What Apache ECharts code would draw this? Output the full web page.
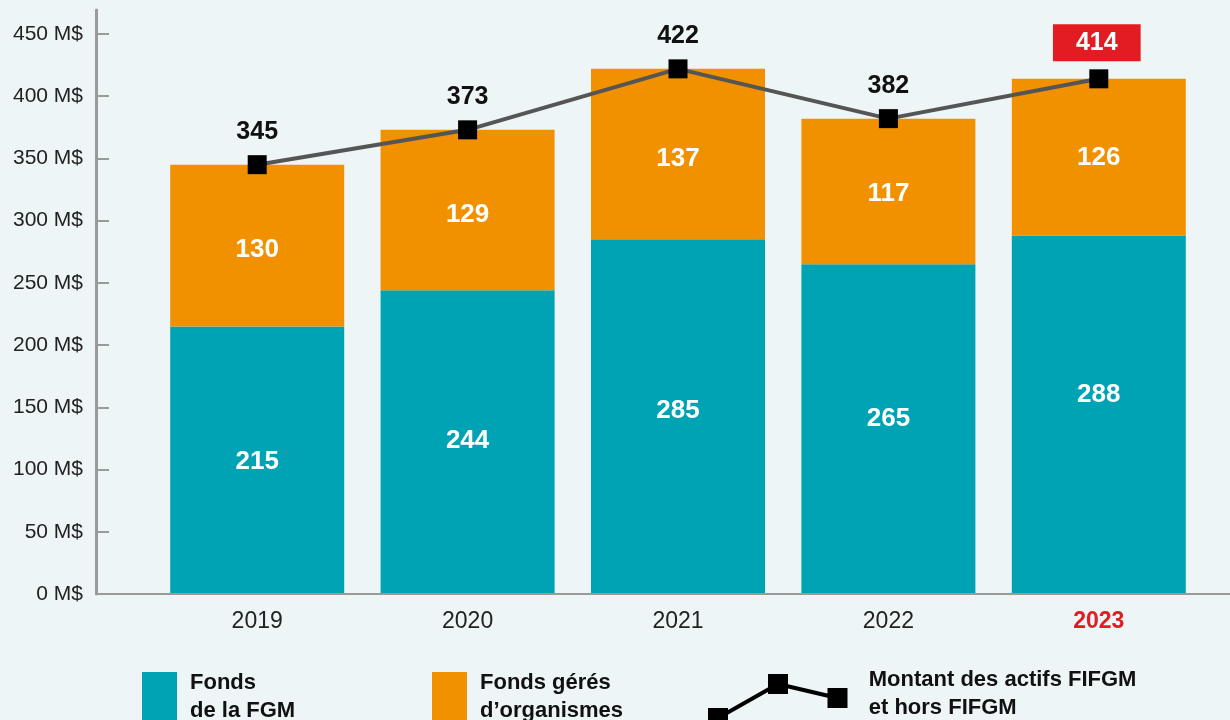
<!DOCTYPE html>
<html>
<head>
<meta charset="utf-8">
<script src="https://cdn.jsdelivr.net/npm/echarts@6/dist/echarts.min.js"></script>
<style>
html, body { margin: 0; padding: 0; background: #eef5f7; }
#chart { width: 1230px; height: 720px; }
</style>
</head>
<body>
<div id="chart"></div>
<script>
// données
const years = ["2019", "2020", "2021", "2022", "2023"];
const fondsFgm = [215, 244, 285, 265, 288];
const fondsOrganismes = [130, 129, 137, 117, 126];
const totalActifs = [345, 373, 422, 382, 414];
const yTickValues = [0, 50, 100, 150, 200, 250, 300, 350, 400, 450];

// petits décalages verticaux des étiquettes (style, pas des données)
const tealLabelShift = [2, -1, -6, -10, -20];
const orangeLabelShift = [4, 5, 5, 2, 1];

const FONT = '"Liberation Sans", Arial, Helvetica, sans-serif';
const TEAL = "#00a3b4";
const ORANGE = "#f29100";
const RED = "#e31b23";
const AXIS = "#9a9a9a";

const nameFgm = "Fonds de la FGM";
const nameOrg = "Fonds gérés d’organismes";
const nameTotal = "Montant des actifs FIFGM et hors FIFGM";
const legendText = {};
legendText[nameFgm] = "Fonds\nde la FGM";
legendText[nameOrg] = "Fonds gérés\nd’organismes";
legendText[nameTotal] = "Montant des actifs FIFGM\net hors FIFGM";

// zigzag + carrés ; le point invisible en haut décale l'icône sous le texte
const lineIcon =
  "path://M0,-14L0.01,-14 M0,34h20v20h-20z M60,0h20v20h-20z M119.5,14h20v20h-20z " +
  "M9,42.3L69,8.3L71,11.7L11,45.7z M70.5,8L130,22L129,26L69.5,12z";

const legendTextStyle = {
  fontFamily: FONT,
  fontSize: 22,
  fontWeight: "bold",
  color: "#111",
  lineHeight: 28
};

function legendBox(left, top, w, h, name, icon, pad) {
  return {
    orient: "horizontal",
    padding: 0,
    selectedMode: false,
    left: left,
    top: top,
    itemWidth: w,
    itemHeight: h,
    formatter: n => legendText[n],
    data: [{ name: name, icon: icon }],
    textStyle: Object.assign({}, legendTextStyle, { padding: pad })
  };
}

function barData(values, shift) {
  return values.map((v, i) => ({ value: v, label: { offset: [0, shift[i]] } }));
}

const chart = echarts.init(document.getElementById("chart"));
chart.setOption({
  backgroundColor: "#eef5f7",
  animation: false,
  textStyle: { fontFamily: FONT },
  grid: [
    { left: 152, right: 26, top: 10, bottom: 126 },
    { left: 96, right: 0, top: 10, bottom: 126 }
  ],
  legend: [
    legendBox(142, 666, 35, 50, nameFgm, "rect", [0, 0, 6, 8]),
    legendBox(432, 666, 35, 50, nameOrg, "rect", [0, 0, 6, 8]),
    legendBox(708, 660, 140, 68, nameTotal, lineIcon, [0, 0, 0, 16])
  ],
  xAxis: [
    {
      type: "category",
      gridIndex: 0,
      data: years,
      axisLine: { show: false },
      axisTick: { show: false },
      axisLabel: {
        fontSize: 23,
        color: "#222",
        margin: 16,
        formatter: (v, i) => (i === years.length - 1 ? "{hl|" + v + "}" : v),
        rich: { hl: { fontSize: 23, fontWeight: "bold", color: RED } }
      }
    },
    {
      type: "value",
      gridIndex: 1,
      min: 0,
      max: 1,
      z: 5,
      axisLine: { show: true, lineStyle: { color: AXIS, width: 2 } },
      axisTick: { show: false },
      axisLabel: { show: false },
      splitLine: { show: false }
    }
  ],
  yAxis: [
    {
      type: "value",
      gridIndex: 0,
      min: 0,
      max: 469.3,
      show: false,
      splitLine: { show: false }
    },
    {
      type: "value",
      gridIndex: 1,
      min: 0,
      max: 469.3,
      z: 5,
      axisLine: { show: true, lineStyle: { color: AXIS, width: 3 } },
      axisTick: {
        show: true, inside: true, length: 13,
        customValues: yTickValues,
        lineStyle: { color: AXIS, width: 2 }
      },
      axisLabel: {
        customValues: yTickValues,
        formatter: "{value} M$",
        fontSize: 21,
        color: "#222",
        margin: 13
      },
      splitLine: { show: false }
    }
  ],
  series: [
    {
      name: nameFgm,
      type: "bar",
      stack: "actifs",
      barWidth: 174,
      data: barData(fondsFgm, tealLabelShift),
      itemStyle: { color: TEAL },
      label: {
        show: true, position: "inside",
        color: "#fff", fontSize: 26, fontWeight: "bold"
      }
    },
    {
      name: nameOrg,
      type: "bar",
      stack: "actifs",
      barWidth: 174,
      data: barData(fondsOrganismes, orangeLabelShift),
      itemStyle: { color: ORANGE },
      label: {
        show: true, position: "inside",
        color: "#fff", fontSize: 26, fontWeight: "bold"
      }
    },
    {
      name: nameTotal,
      type: "line",
      z: 4,
      data: totalActifs.map((v, i) =>
        i === totalActifs.length - 1
          ? {
              value: v,
              label: {
                color: "#fff",
                backgroundColor: RED,
                padding: [6, 23, 6, 23],
                distance: 8,
                offset: [-2, 0]
              }
            }
          : v
      ),
      symbol: "rect",
      symbolSize: 19,
      itemStyle: { color: "#000" },
      lineStyle: { color: "#555", width: 4 },
      label: {
        show: true, position: "top", distance: 11,
        color: "#111", fontSize: 25, fontWeight: "bold"
      }
    }
  ]
});
</script>
</body>
</html>
